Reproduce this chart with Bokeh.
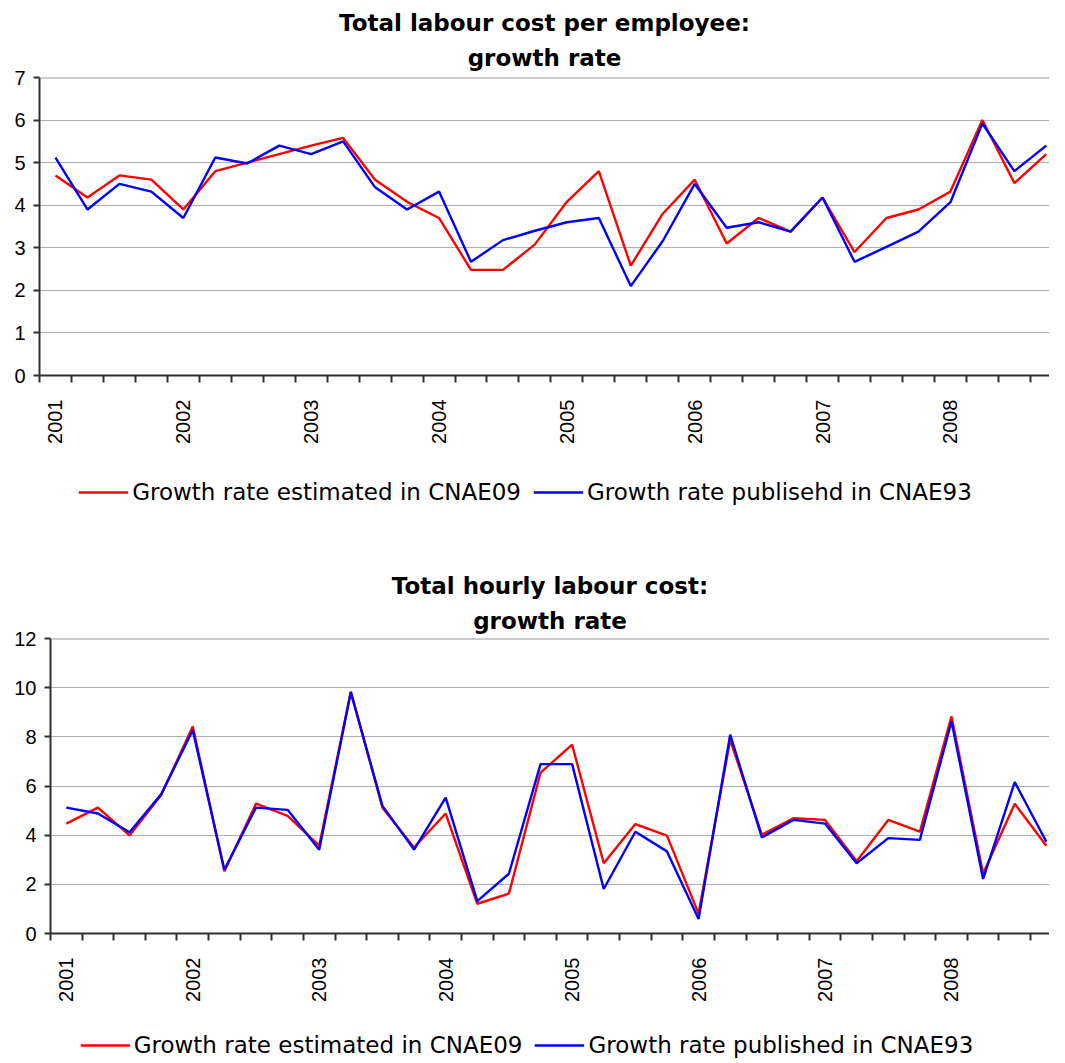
import math
from bokeh.plotting import figure
from bokeh.models import Range1d, FixedTicker, Legend, LegendItem, Title, Span
from bokeh.layouts import column
from bokeh.embed import file_html
from bokeh.resources import INLINE

years = ["2001", "2002", "2003", "2004", "2005", "2006", "2007", "2008"]

# Total labour cost per employee: growth rate (quarterly)
emp_cnae09 = [4.70, 4.18, 4.70, 4.60, 3.90, 4.80, 5.00, 5.20,
              5.40, 5.58, 4.60, 4.08, 3.70, 2.48, 2.48, 3.08,
              4.08, 4.80, 2.58, 3.80, 4.60, 3.10, 3.70, 3.38,
              4.18, 2.90, 3.70, 3.90, 4.32, 6.00, 4.52, 5.20]
emp_cnae93 = [5.12, 3.90, 4.50, 4.32, 3.70, 5.12, 4.98, 5.40,
              5.20, 5.50, 4.42, 3.90, 4.32, 2.67, 3.18, 3.40,
              3.60, 3.70, 2.10, 3.16, 4.50, 3.47, 3.60, 3.38,
              4.18, 2.67, 3.02, 3.38, 4.07, 5.92, 4.80, 5.40]

# Total hourly labour cost: growth rate (quarterly)
hour_cnae09 = [4.47, 5.12, 3.99, 5.63, 8.42, 2.53, 5.28, 4.78,
               3.57, 9.84, 5.12, 3.50, 4.88, 1.21, 1.62, 6.54,
               7.68, 2.86, 4.45, 3.98, 0.81, 7.88, 4.02, 4.69,
               4.62, 2.94, 4.62, 4.14, 8.83, 2.43, 5.28, 3.57]
hour_cnae93 = [5.12, 4.88, 4.12, 5.66, 8.27, 2.59, 5.12, 5.03,
               3.41, 9.81, 5.19, 3.41, 5.53, 1.32, 2.43, 6.89,
               6.89, 1.81, 4.14, 3.34, 0.59, 8.09, 3.91, 4.62,
               4.47, 2.86, 3.88, 3.81, 8.63, 2.22, 6.16, 3.73]

label_est = "Growth rate estimated in CNAE09"
label_pub_top = "Growth rate publisehd in CNAE93"
label_pub_bottom = "Growth rate published in CNAE93"

RED = "#FF0000"
BLUE = "#0000FF"
AXIS_COLOR = "#303030"

n = len(emp_cnae09)
xs = [i + 0.5 for i in range(n)]


def make_chart(title1, title2, s_est, s_pub, ymax, ystep,
               height, left, top_min, bottom_min, outer_so, inner_so):
    p = figure(width=1049, height=height,
               x_range=Range1d(0, 31.6), y_range=Range1d(0, ymax),
               output_backend="svg", toolbar_location=None,
               min_border_left=left, min_border_right=0,
               min_border_top=top_min, min_border_bottom=bottom_min,
               background_fill_color="white", border_fill_color="white")
    p.outline_line_color = None

    # outer title line
    p.title.text = title1
    p.title.align = "center"
    p.title.text_font = "DejaVu Sans"
    p.title.text_font_style = "bold"
    p.title.text_font_size = "23px"
    p.title.text_color = "black"
    p.title.standoff = outer_so
    # inner title line (closest to the plot)
    p.add_layout(Title(text=title2, align="center", text_font="DejaVu Sans",
                       text_font_style="bold", text_font_size="23px",
                       text_color="black", standoff=inner_so), "above")

    p.line(xs, s_est, line_color=RED, line_width=2.4)
    p.line(xs, s_pub, line_color=BLUE, line_width=2.4)

    p.add_layout(Span(location=ymax, dimension="width",
                      line_color="#999999", line_width=2))

    # y axis
    p.yaxis.ticker = list(range(0, ymax + 1, ystep))
    p.yaxis.axis_line_color = AXIS_COLOR
    p.yaxis.axis_line_width = 2
    p.yaxis.major_tick_line_color = AXIS_COLOR
    p.yaxis.major_tick_line_width = 2
    p.yaxis.major_tick_out = 6
    p.yaxis.major_tick_in = 0
    p.yaxis.minor_tick_line_color = None
    p.yaxis.major_label_text_font = "Liberation Sans"
    p.yaxis.major_label_text_font_size = "20px"
    p.yaxis.major_label_text_color = "black"
    p.yaxis.major_label_standoff = 8

    # x axis: labels at first quarter of each year, ticks between quarters
    major = [4 * k + 0.5 for k in range(len(years))]
    p.xaxis.ticker = FixedTicker(ticks=major, minor_ticks=list(range(n + 1)))
    p.xaxis.major_label_overrides = {m: y for m, y in zip(major, years)}
    p.xaxis.major_label_orientation = math.pi / 2
    p.xaxis.major_tick_out = 0
    p.xaxis.major_tick_in = 0
    p.xaxis.minor_tick_out = 7
    p.xaxis.minor_tick_in = 0
    p.xaxis.minor_tick_line_color = AXIS_COLOR
    p.xaxis.minor_tick_line_width = 2
    p.xaxis.axis_line_color = AXIS_COLOR
    p.xaxis.axis_line_width = 2
    p.xaxis.major_label_text_font = "Liberation Sans"
    p.xaxis.major_label_text_font_size = "20px"
    p.xaxis.major_label_text_color = "black"
    p.xaxis.major_label_standoff = 17

    p.xgrid.visible = False
    p.ygrid.grid_line_color = "#B0B0B0"
    p.ygrid.grid_line_width = 1
    return p


def make_legend(s_est, s_pub, pub_label, width, height):
    # series drawn outside the visible range: only the legend is shown
    q = figure(width=width, height=height, x_range=Range1d(0, 31.6),
               y_range=Range1d(-20, -10), output_backend="svg",
               toolbar_location=None, x_axis_type=None, y_axis_type=None,
               min_border=0, background_fill_color="white",
               border_fill_color="white")
    q.outline_line_color = None
    q.grid.visible = False
    r1 = q.line(xs, s_est, line_color=RED, line_width=2.4)
    r2 = q.line(xs, s_pub, line_color=BLUE, line_width=2.4)
    legend = Legend(items=[LegendItem(label=label_est, renderers=[r1]),
                           LegendItem(label=pub_label, renderers=[r2])],
                    orientation="horizontal", location="center",
                    glyph_width=50, glyph_height=20, label_standoff=4,
                    spacing=12, padding=0, margin=0,
                    border_line_color=None, background_fill_alpha=0,
                    label_text_font="DejaVu Sans",
                    label_text_font_size="23px",
                    label_text_color="black")
    q.add_layout(legend, "center")
    return q


p1 = make_chart("Total labour cost per employee:", "growth rate",
                emp_cnae09, emp_cnae93, 7, 1,
                height=472, left=39, top_min=77, bottom_min=97,
                outer_so=1, inner_so=13)
leg1 = make_legend(emp_cnae09, emp_cnae93, label_pub_top, 1011, 40)
p2 = make_chart("Total hourly labour cost:", "growth rate",
                hour_cnae09, hour_cnae93, 12, 2,
                height=518, left=50, top_min=126, bottom_min=97,
                outer_so=4, inner_so=10)
leg2 = make_legend(hour_cnae09, hour_cnae93, label_pub_bottom, 1003, 30)

layout = column(column(p1, leg1, spacing=0), column(p2, leg2, spacing=0),
                spacing=0)

with open("out.html", "w") as f:
    f.write(file_html(layout, INLINE))
